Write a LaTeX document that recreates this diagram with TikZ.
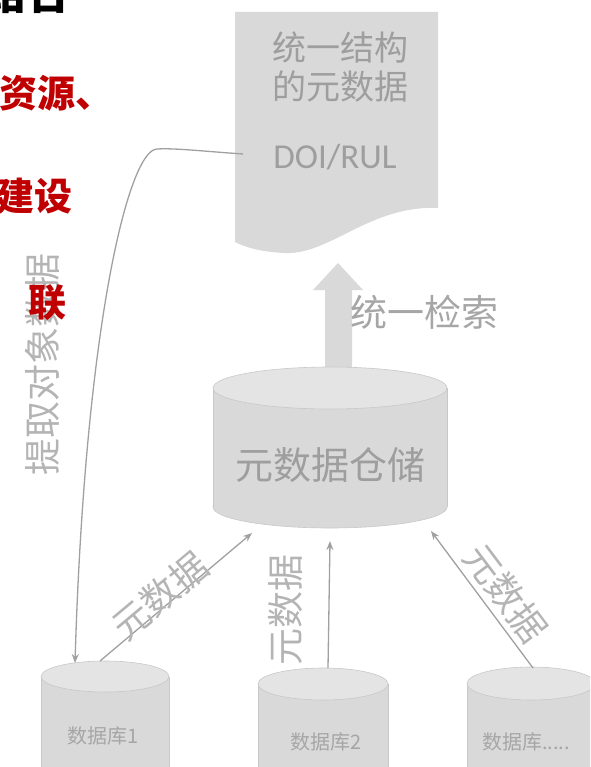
\documentclass[tikz,border=0pt]{standalone}
\usepackage{fontspec}
\newfontfamily\cjk{Noto Sans CJK SC}
\newfontfamily\lat{Carlito}
\usetikzlibrary{arrows.meta}
\definecolor{fillgray}{HTML}{D9D9D9}
\definecolor{topgray}{HTML}{E4E4E4}
\definecolor{edgegray}{HTML}{C8C8C8}
\definecolor{txtgray}{HTML}{A6A6A6}
\definecolor{lbgray}{HTML}{B4B4B4}
\definecolor{linegray}{HTML}{A0A0A0}
\definecolor{slidered}{HTML}{C00000}
\tikzset{
  cjktext/.style={font=\cjk\fontsize{#1}{#1}\selectfont, text=txtgray, inner sep=0pt},
  lbl/.style={font=\cjk\fontsize{#1}{#1}\selectfont, text=lbgray, inner sep=0pt},
  redtext/.style={font=\cjk\bfseries\fontsize{38}{38}\selectfont, text=slidered, inner sep=0pt, anchor=base west},
  conn/.style={draw=linegray, line width=1.3pt, -{Stealth[length=9pt,width=7pt]}},
  shapefill/.style={fill=fillgray, draw=edgegray, line width=0.6pt},
}
\begin{document}
\begin{tikzpicture}[x=1pt,y=-1pt]
\useasboundingbox (0,0) rectangle (590,767);
\clip (0,0) rectangle (590,767);

% document shape
\path[fill=fillgray] (235,12) -- (438,12) -- (438,208)
  .. controls (370,205) and (330,255) .. (285,253)
  .. controls (260,252) and (245,247) .. (235,242) -- cycle;
\node[cjktext=34, align=center, text=txtgray!95!black] (doc) at (340,67) {统一结构\\[5pt]的元数据};
\node[font=\lat\fontsize{35}{35}\selectfont, text=txtgray!95!black, inner sep=0pt] (doi) at (335,157) {DOI/RUL};
\coordinate (docsrc) at (243,154);

% big up arrow
\path[fill=fillgray] (325,368) -- (325,290) -- (313,290) -- (338,263) -- (363,290) -- (352,290) -- (352,368) -- cycle;
\node[cjktext=37, anchor=west] (search) at (350,312) {统一检索};

% warehouse cylinder
\path[shapefill] (330,507) ellipse [x radius=117, y radius=21];
\path[fill=fillgray] (213,388) rectangle (447,507);
\draw[edgegray, line width=0.6pt] (213,388) -- (213,507) (447,388) -- (447,507);
\path[fill=topgray, draw=edgegray, line width=0.6pt] (330,388) ellipse [x radius=117, y radius=21];
\node[cjktext=38, text=txtgray!95!black] (wh) at (330,465) {元数据仓储};
\coordinate (whl) at (252,533);
\coordinate (whm) at (330,541);
\coordinate (whr) at (431,531);

% database cylinders
\path[fill=fillgray, draw=edgegray, line width=0.6pt] (41,676.5) -- (41,780) -- (169,780) -- (169,676.5);
\path[fill=topgray, draw=edgegray, line width=0.6pt] (105,676.5) ellipse [x radius=64, y radius=15.5];
\node[cjktext=20] (db1) at (103,736) {数据库1};
\coordinate (db1in) at (75,663);
\coordinate (db1out) at (100,661);

\path[fill=fillgray, draw=edgegray, line width=0.6pt] (258,684) -- (258,780) -- (388,780) -- (388,684);
\path[fill=topgray, draw=edgegray, line width=0.6pt] (323,684) ellipse [x radius=65, y radius=16];
\node[cjktext=20] (db2) at (326,742) {数据库2};
\coordinate (db2out) at (328,668);

\path[fill=fillgray, draw=edgegray, line width=0.6pt] (467,683.5) -- (467,780) -- (595,780) -- (595,683.5);
\path[fill=topgray, draw=edgegray, line width=0.6pt] (531,683.5) ellipse [x radius=64, y radius=16.5];
\node[cjktext=20, anchor=west] (db3) at (482,742) {数据库.....};
\coordinate (db3out) at (533,668);

% connectors
\draw[conn] (db1out) -- (whl);
\draw[conn] (db2out) -- (whm);
\draw[conn] (db3out) -- (whr);
\draw[conn] (docsrc) .. controls (200,151) and (175,148) .. (157,149)
  .. controls (128,150) and (85,330) .. (db1in);

% labels
\node[lbl=37, rotate=40] (l1) at (160,596) {元数据};
\node[lbl=37, rotate=90] (l2) at (285,610) {元数据};
\node[lbl=37, rotate=-53] (l3) at (506,593) {元数据};
\node[lbl=37, rotate=90] (l4) at (42,364) {提取对象数据};

% slide text (cropped), drawn on top
\node[font=\cjk\bfseries\fontsize{44}{44}\selectfont, text=black, inner sep=0pt, anchor=base west] (t0) at (-18,10) {结合};
\node[redtext] (t1) at (-1,108) {资源、};
\node[redtext] (t2) at (-4,211) {建设};
\node[redtext] (t3) at (28,316) {联};
\end{tikzpicture}
\end{document}
